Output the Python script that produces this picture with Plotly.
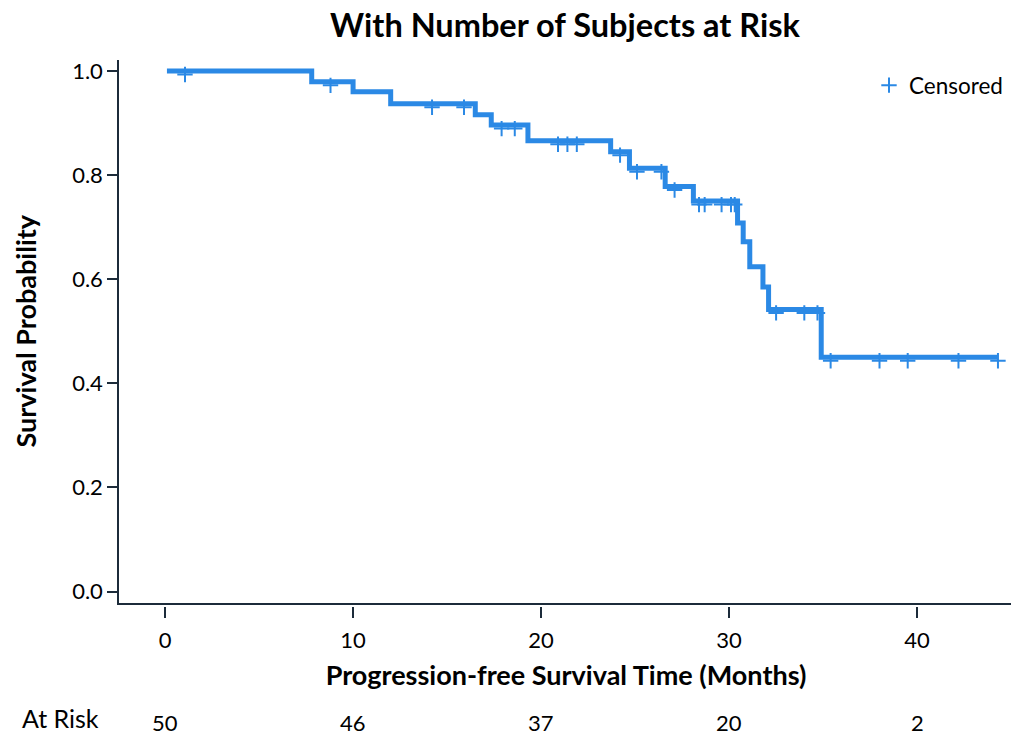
import numpy as np
import plotly.graph_objects as go

# Kaplan-Meier step curve (event times, survival after each step)
step_times = [0.1, 7.8, 10.0, 12.0, 16.5, 17.35, 19.3, 23.7, 24.7, 26.6, 28.1,
              30.45, 30.75, 31.1, 31.8, 32.1, 34.9, 44.3]
step_surv = [1.0, 0.979, 0.960, 0.937, 0.916, 0.896, 0.866, 0.845, 0.813, 0.778,
             0.750, 0.708, 0.672, 0.624, 0.585, 0.542, 0.450, 0.450]

# Censoring times
censor_times = [1.06, 8.8, 14.2, 15.9, 17.9, 18.6, 20.9, 21.4, 21.9, 24.2, 25.1,
                26.4, 27.1, 28.4, 28.7, 29.6, 30.1, 30.3, 32.5, 34.0, 34.7, 35.4,
                38.0, 39.5, 42.2, 44.3]

# Number at risk table
risk_times = [0, 10, 20, 30, 40]
risk_counts = [50, 46, 37, 20, 2]

x_ticks = [0, 10, 20, 30, 40]
y_ticks = [0.0, 0.2, 0.4, 0.6, 0.8, 1.0]

# survival at each censor time read from the step function
idx = np.searchsorted(step_times, censor_times, side="right") - 1
censor_surv = [step_surv[i] for i in idx]

COLOR = "rgb(43,137,229)"
AXIS = "#1c2b3a"
FONT = "Lato"

W, H = 1019, 738
OFF = 8  # page body margin
ML, MR, MT = 119 - OFF, W - (1013 - OFF), 60 - OFF
PB = 620 - OFF            # paper bottom (figure px)
MB = H - PB
ph = PB - MT
pw = W - ML - MR
y_dom0 = (PB - (602.5 - OFF)) / ph
shift = 3.5 / ph
xr = [-2.45, 45.1]
yr = [-0.021, 1.021]


def py(page_y):
    return (PB - (page_y - OFF)) / ph


def px(page_x):
    return ((page_x - OFF) - ML) / pw


fig = go.Figure()
fig.add_trace(go.Scatter(x=step_times, y=step_surv, mode="lines",
                         line=dict(color=COLOR, width=5, shape="hv"),
                         showlegend=False, hoverinfo="skip"))
fig.add_trace(go.Scatter(x=censor_times, y=censor_surv, mode="markers",
                         yaxis="y3", name="Censored",
                         marker=dict(symbol="cross-thin", size=11, color=COLOR,
                                     line=dict(color=COLOR, width=2))))
fig.add_trace(go.Scatter(x=[risk_times[0]], y=[None], xaxis="x2",
                         showlegend=False, hoverinfo="skip"))

for t, n in zip(risk_times, risk_counts):
    fig.add_annotation(x=t, y=py(722), xref="x", yref="paper", text=str(n),
                       showarrow=False, xanchor="center", yanchor="middle",
                       font=dict(family=FONT, size=22, color="black"))
fig.add_annotation(x=px(60), y=py(718), xref="paper",
                   yref="paper", text="At Risk",
                   showarrow=False, xanchor="center", yanchor="middle",
                   font=dict(family=FONT, size=25, color="black"))

fig.update_layout(
    width=W, height=H,
    margin=dict(l=ML, r=MR, t=MT, b=MB, autoexpand=False),
    paper_bgcolor="white", plot_bgcolor="rgba(0,0,0,0)",
    font=dict(family=FONT, color="black"),
    title=dict(text="<b>With Number of Subjects at Risk</b>", x=(565 - OFF) / W,
               xanchor="center", y=1, yanchor="top", yref="container",
               pad=dict(t=6),
               font=dict(family=FONT, size=32.5, color="black")),
    xaxis=dict(range=xr, domain=[0, 1], anchor="y", showline=True, linecolor=AXIS,
               linewidth=1.5, ticks="", showticklabels=False, showgrid=False,
               zeroline=False, automargin=False),
    xaxis2=dict(range=xr, overlaying="x", anchor="free", position=py(606),
                showline=False, ticks="outside", ticklen=11, tickwidth=1.5,
                tickcolor=AXIS, tickvals=x_ticks, showgrid=False, zeroline=False,
                automargin=False, ticklabelstandoff=4,
                tickfont=dict(family=FONT, size=22, color="black"),
                title=dict(text="<b>Progression-free Survival Time (Months)</b>",
                           standoff=13, font=dict(family=FONT, size=27, color="black"))),
    yaxis=dict(range=yr, domain=[y_dom0, 1], anchor="x", showline=True, linecolor=AXIS,
               linewidth=1.5, ticks="outside", ticklen=10, tickwidth=1.5, tickcolor=AXIS,
               tickvals=y_ticks, tickformat=".1f", showgrid=False, zeroline=False,
               automargin=False,
               tickfont=dict(family=FONT, size=22, color="black"),
               title=dict(text="<b>Survival Probability</b>", standoff=28,
                          font=dict(family=FONT, size=27, color="black"))),
    yaxis3=dict(range=yr, domain=[y_dom0 - shift, 1 - shift], anchor="x",
                visible=False, showgrid=False, zeroline=False),
    legend=dict(x=px(869), xanchor="left", y=py(64), yanchor="top",
                bgcolor="rgba(0,0,0,0)",
                font=dict(family=FONT, size=22.5, color="black")),
    showlegend=True,
)

fig.write_html("out.html")
